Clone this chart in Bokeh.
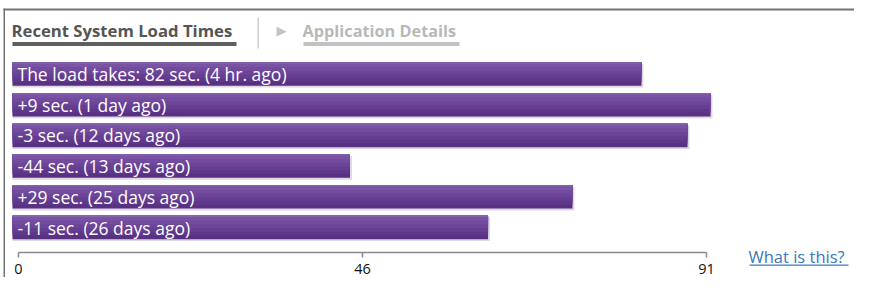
from bokeh.plotting import figure
from bokeh.models import Range1d, FixedTicker, LinearAxis, Label, BoxAnnotation, ColumnDataSource
from bokeh.core.properties import value
from bokeh.embed import file_html
from bokeh.resources import INLINE

# ---- data ----
row_labels = [
    "The load takes: 82 sec. (4 hr. ago)",
    "+9 sec. (1 day ago)",
    "-3 sec. (12 days ago)",
    "-44 sec. (13 days ago)",
    "+29 sec. (25 days ago)",
    "-11 sec. (26 days ago)",
]
load_seconds = [82, 91, 88, 44, 73, 62]
tick_values = [0, 45.5, 91]
tick_labels = ["0", "46", "91"]
tab_titles = ["Recent System Load Times", "Application Details"]
link_text = "What is this?"

# ---- layout constants (pixel geometry) ----
W, H = 854, 277
X0_PX, X91_PX = 12, 710          # bar value 0 / 91
KX = (X91_PX - X0_PX) / 91.0
ROW0_PX, PITCH = 73.5, 30.7
AXIS_PX = 252
xs = -X0_PX / KX
xe = xs + W / KX
y_top = -ROW0_PX / PITCH
y_bot = (H - ROW0_PX) / PITCH
BORDER = "#737373"
FONT = "Open Sans"

def X(px):
    return xs + px / KX

def Y(py):
    return y_top + py / PITCH

p = figure(width=W, height=H, output_backend="svg", toolbar_location=None,
           x_range=Range1d(xs, xe), y_range=Range1d(y_bot, y_top),
           min_border=0, x_axis_location=None, y_axis_location=None)
p.outline_line_color = None
p.grid.visible = False
p.background_fill_color = "white"
p.border_fill_color = "white"

# value axis: own range (0 -> px 18, 91 -> px 706), fixed at px row 252
AX0, AX91 = 18, 706
KA = (AX91 - AX0) / 91.0
axs = -AX0 / KA
p.extra_x_ranges = {"ax": Range1d(axs, axs + W / KA)}
ax = LinearAxis(x_range_name="ax", ticker=FixedTicker(ticks=tick_values),
                major_label_overrides={v: t for v, t in zip(tick_values, tick_labels)},
                bounds=(tick_values[0], tick_values[-1]),
                fixed_location=Y(AXIS_PX))
ax.axis_line_color = "#8a8a8a"
ax.axis_line_width = 1.5
ax.major_tick_line_color = "#8a8a8a"
ax.major_tick_line_width = 1.5
ax.major_tick_in = 0
ax.major_tick_out = 5
ax.minor_tick_line_color = None
ax.major_label_standoff = 6
ax.major_label_text_font = FONT
ax.major_label_text_font_size = "14.5px"
ax.major_label_text_color = "#111111"
p.add_layout(ax, "below")

rows = list(range(len(load_seconds)))
BH = 23.5 / PITCH
src = ColumnDataSource(dict(
    y=rows, v=load_seconds, label=row_labels,
    shadow_v=[v + 0.25 for v in load_seconds],
    y_sh=[r + 0.06 for r in rows],
))

# shadow
p.hbar(y="y_sh", left=0, right="shadow_v", height=BH, source=src,
       fill_color="#d9d1e0", line_color=None, fill_alpha=0.9)
# vertical gradient: bands anchored at the bar's top edge
band_colors = ["#593183", "#5f378a", "#663e91", "#6d4598", "#744c9f", "#7a53a4", "#8664ad"]
band_fracs = [1.0, 0.84, 0.68, 0.52, 0.36, 0.2, 0.05]
for c, f in zip(band_colors, band_fracs):
    p.hbar(y=[r - BH / 2 + f * BH / 2 for r in rows], left=0, right=load_seconds,
           height=f * BH, fill_color=c, line_color=None)

p.text(x=X(17), y="y", text="label", source=src, text_color="white",
       text_font=value(FONT), text_font_size="17.5px", text_baseline="middle",
       text_align="left")

# header tabs
p.add_layout(Label(x=X(11), y=Y(30), text=tab_titles[0], text_font=FONT,
                   text_font_size="16.7px", text_font_style="bold",
                   text_color="#555555", text_baseline="middle"))
p.add_layout(Label(x=X(302), y=Y(30), text=tab_titles[1], text_font=FONT,
                   text_font_size="16.3px", text_font_style="bold",
                   text_color="#b9b9b9", text_baseline="middle"))
p.add_layout(Label(x=X(276), y=Y(30), text="\u25B6", text_font="DejaVu Sans",
                   text_font_size="13px", text_color="#c4c4c4",
                   text_baseline="middle"))
p.add_layout(BoxAnnotation(left=X(12), right=X(236), top=Y(41.5), bottom=Y(45.5),
                           fill_color="#5f5f5f", fill_alpha=1, line_color=None))
p.add_layout(BoxAnnotation(left=X(303), right=X(459), top=Y(41.5), bottom=Y(45.5),
                           fill_color="#c2c2c2", fill_alpha=1, line_color=None))
p.add_layout(BoxAnnotation(left=X(257), right=X(258.5), top=Y(17), bottom=Y(48),
                           fill_color="#cfcfcf", fill_alpha=1, line_color=None))

# outer border (top and left)
p.add_layout(BoxAnnotation(left=X(3), right=X(W), top=Y(8), bottom=Y(10),
                           fill_color=BORDER, fill_alpha=1, line_color=None))
p.add_layout(BoxAnnotation(left=X(3), right=X(4.5), top=Y(8), bottom=Y(H),
                           fill_color=BORDER, fill_alpha=1, line_color=None))

# link
p.add_layout(Label(x=X(748), y=Y(256), text=link_text, text_font=FONT,
                   text_font_size="16.5px", text_color="#3a78bd",
                   text_baseline="middle"))
p.add_layout(BoxAnnotation(left=X(749), right=X(848), top=Y(264), bottom=Y(265.2),
                           fill_color="#3a78bd", fill_alpha=1, line_color=None))

open("out.html", "w").write(file_html(p, INLINE))
